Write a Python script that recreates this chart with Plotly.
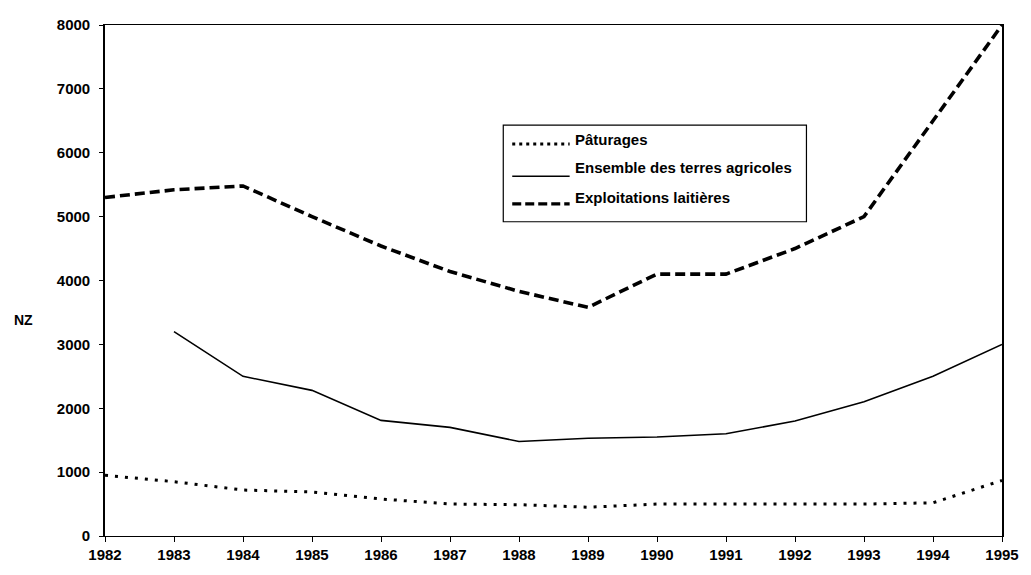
import plotly.graph_objects as go

years = list(range(1982, 1996))
paturages = [950, 850, 720, 690, 580, 500, 490, 450, 500, 500, 500, 500, 520, 870]
ensemble = [None, 3200, 2500, 2280, 1810, 1700, 1480, 1530, 1550, 1600, 1800, 2100, 2500, 3000]
exploitations = [5300, 5420, 5480, 5000, 4540, 4140, 3830, 3580, 4100, 4100, 4500, 5000, 6500, 8000]

names = ["Pâturages", "Ensemble des terres agricoles", "Exploitations laitières"]
y_ticks = [0, 1000, 2000, 3000, 4000, 5000, 6000, 7000, 8000]

FONT = "Liberation Sans, Arial, sans-serif"

dot_style = dict(color="black", width=3, dash="3px,7px")
solid_style = dict(color="black", width=1.6)
dash_style = dict(color="black", width=3.6, dash="10px,5px")

fig = go.Figure()
fig.add_trace(go.Scatter(x=years, y=paturages, mode="lines", name=names[0], line=dot_style))
fig.add_trace(go.Scatter(x=years, y=ensemble, mode="lines", name=names[1], line=solid_style))
fig.add_trace(go.Scatter(x=years, y=exploitations, mode="lines", name=names[2], line=dash_style))

# custom legend box (paper coordinates)
fig.add_shape(type="rect", xref="paper", yref="paper", x0=0.444, x1=0.782, y0=0.615, y1=0.804,
              line=dict(color="black", width=1.2))
legend_y_line = [0.767, 0.704, 0.650]
legend_y_text = [0.775, 0.721, 0.663]
styles = [dict(color="black", width=3, dash="3px,4px"),
          dict(color="black", width=1.4),
          dict(color="black", width=3.2, dash="9px,4px")]
for i, nm in enumerate(names):
    fig.add_shape(type="line", xref="paper", yref="paper", x0=0.454, x1=0.518,
                  y0=legend_y_line[i], y1=legend_y_line[i], line=styles[i])
    fig.add_annotation(xref="paper", yref="paper", x=0.522, y=legend_y_text[i], text=f"<b>{nm}</b>",
                       showarrow=False, xanchor="left", yanchor="middle",
                       font=dict(family=FONT, size=15, color="black"))

fig.add_annotation(xref="paper", yref="paper", x=-0.091, y=0.423, text="<b>NZ</b>",
                   showarrow=False, xanchor="center", yanchor="middle",
                   font=dict(family=FONT, size=14, color="black"))

fig.update_layout(
    width=1031, height=575,
    margin=dict(l=105, r=18, t=25, b=30),
    paper_bgcolor="white", plot_bgcolor="white",
    showlegend=False,
    font=dict(family=FONT, size=15, color="black"),
)
fig.update_xaxes(range=[1982, 1995], tickmode="array", tickvals=years,
                 ticktext=[f"<b>{y}</b>" for y in years],
                 showgrid=False, zeroline=False, showline=True, linecolor="black", linewidth=1.2,
                 mirror=True, ticks="outside", ticklen=5, tickcolor="black",
                 tickfont=dict(family=FONT, size=15))
fig.update_yaxes(range=[0, 8000], tickmode="array", tickvals=y_ticks,
                 ticktext=[f"<b>{v}</b>" for v in y_ticks],
                 showgrid=False, zeroline=False, showline=True, linecolor="black", linewidth=1.6,
                 mirror=True, ticks="outside", ticklen=4, tickcolor="black",
                 ticklabelstandoff=6,
                 tickfont=dict(family=FONT, size=15))

fig.write_html("out.html", config={"displayModeBar": False},
               post_script="document.body.style.margin='0';document.body.style.overflow='hidden';")
